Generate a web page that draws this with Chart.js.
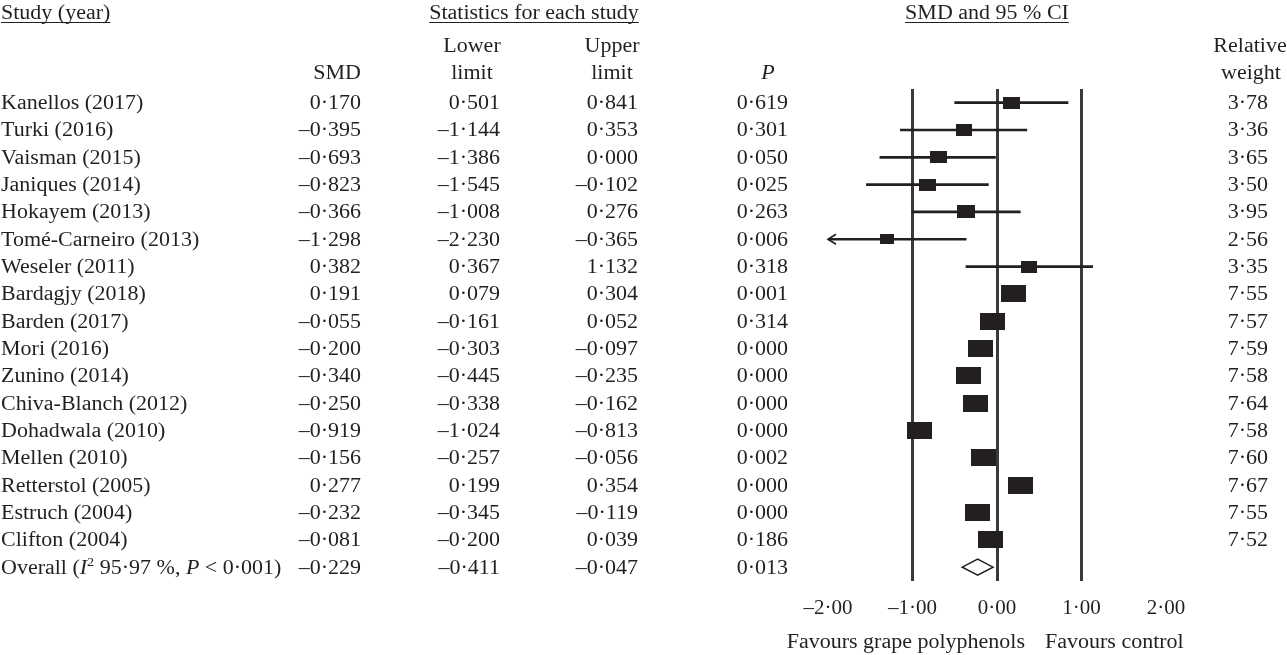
<!DOCTYPE html>
<html>
<head>
<meta charset="utf-8">
<title>SMD forest plot</title>
<script src="https://cdn.jsdelivr.net/npm/chart.js@4.4.1/dist/chart.umd.min.js"></script>
<style>
  html, body { margin: 0; padding: 0; background: #fff; }
  #wrap { position: relative; width: 1287px; height: 655px; }
</style>
</head>
<body>
<div id="wrap"><canvas id="forest"></canvas></div>
<script>
const studies = [
  "Kanellos (2017)", "Turki (2016)", "Vaisman (2015)", "Janiques (2014)",
  "Hokayem (2013)", "Tomé-Carneiro (2013)", "Weseler (2011)", "Bardagjy (2018)",
  "Barden (2017)", "Mori (2016)", "Zunino (2014)", "Chiva-Blanch (2012)",
  "Dohadwala (2010)", "Mellen (2010)", "Retterstol (2005)", "Estruch (2004)",
  "Clifton (2004)", "Overall"
];
const smd = [0.170, -0.395, -0.693, -0.823, -0.366, -1.298, 0.382, 0.191, -0.055,
  -0.200, -0.340, -0.250, -0.919, -0.156, 0.277, -0.232, -0.081, -0.229];
// plotted lower limits (the printed table drops the minus sign for rows 0 and 6)
const lowerLimit = [-0.501, -1.144, -1.386, -1.545, -1.008, -2.230, -0.367, 0.079, -0.161,
  -0.303, -0.445, -0.338, -1.024, -0.257, 0.199, -0.345, -0.200, -0.411];
const upperLimit = [0.841, 0.353, 0.000, -0.102, 0.276, -0.365, 1.132, 0.304, 0.052,
  -0.097, -0.235, -0.162, -0.813, -0.056, 0.354, -0.119, 0.039, -0.047];
const pValues = [0.619, 0.301, 0.050, 0.025, 0.263, 0.006, 0.318, 0.001, 0.314,
  0.000, 0.000, 0.000, 0.000, 0.002, 0.000, 0.000, 0.186, 0.013];
const weights = [3.78, 3.36, 3.65, 3.50, 3.95, 2.56, 3.35, 7.55, 7.57,
  7.59, 7.58, 7.64, 7.58, 7.60, 7.67, 7.55, 7.52, null];
const printedLower = { 0: "0·501", 6: "0·367" };
const xTicks = [-2, -1, 0, 1, 2];
const refLines = [-1, 0, 1];
const OVERALL = studies.length - 1;

const INK = "#231f20";
const SERIF = '"Liberation Serif", "Times New Roman", serif';
const SX = 1.1; // source typeface runs wider than Liberation Serif

function fmt(v, d) {
  const s = Math.abs(v).toFixed(d).replace(".", "·");
  return v < 0 ? "–" + s : s;
}

// square markers sized by study weight
const boxes = weights.map(w => {
  if (w == null) return "rect";
  const c = document.createElement("canvas");
  c.width = Math.round(9 * Math.sqrt(w));
  c.height = Math.round(6.3 * Math.sqrt(w));
  const g = c.getContext("2d");
  g.fillStyle = INK;
  g.fillRect(0, 0, c.width, c.height);
  return c;
});

function put(ctx, str, x, y, align, font) {
  ctx.save();
  ctx.font = font || "20px " + SERIF;
  const w = ctx.measureText(str).width * SX;
  const x0 = align === "right" ? x - w : align === "center" ? x - w / 2 : x;
  ctx.translate(x0, y);
  ctx.scale(SX, 1);
  ctx.textAlign = "left";
  ctx.textBaseline = "alphabetic";
  ctx.fillText(str, 0, 0);
  ctx.restore();
  return { x0, w };
}

function underline(ctx, r, y) {
  ctx.save();
  ctx.strokeStyle = INK;
  ctx.lineWidth = 1;
  ctx.beginPath();
  ctx.moveTo(r.x0, y);
  ctx.lineTo(r.x0 + r.w, y);
  ctx.stroke();
  ctx.restore();
}

const tablePlugin = {
  id: "tablePlugin",
  afterDraw(chart) {
    const ctx = chart.ctx;
    const xs = chart.scales.x;
    const ys = chart.scales.y;
    ctx.save();
    ctx.fillStyle = INK;

    // headers
    underline(ctx, put(ctx, "Study (year)", 1, 18.5, "left"), 22.5);
    underline(ctx, put(ctx, "Statistics for each study", 534, 18.5, "center"), 22.5);
    underline(ctx, put(ctx, "SMD and 95 % CI", 987, 18.5, "center"), 22.5);
    put(ctx, "Lower", 472, 51.5, "center");
    put(ctx, "limit", 472, 78.5, "center");
    put(ctx, "Upper", 612, 51.5, "center");
    put(ctx, "limit", 612, 78.5, "center");
    put(ctx, "SMD", 361, 78.5, "right");
    put(ctx, "P", 768, 78.5, "center", "italic 20px " + SERIF);
    put(ctx, "Relative", 1250, 51.5, "center");
    put(ctx, "weight", 1251, 78.5, "center");

    // table rows
    studies.forEach((name, i) => {
      const b = ys.getPixelForValue(i) + 6.5;
      if (i === OVERALL) {
        let cx = 1;
        const runs = [
          ["Overall (", "20px " + SERIF, 0],
          ["I", "italic 20px " + SERIF, 0],
          ["2", "13px " + SERIF, -8],
          [" 95·97 %, ", "20px " + SERIF, 0],
          ["P", "italic 20px " + SERIF, 0],
          [" < 0·001)", "20px " + SERIF, 0]
        ];
        runs.forEach(([s, f, dy]) => { cx += put(ctx, s, cx, b + dy, "left", f).w; });
      } else {
        put(ctx, name, 1, b, "left");
        put(ctx, fmt(weights[i], 2), 1268, b, "right");
      }
      put(ctx, fmt(smd[i], 3), 361, b, "right");
      put(ctx, printedLower[i] || fmt(lowerLimit[i], 3), 500, b, "right");
      put(ctx, fmt(upperLimit[i], 3), 638, b, "right");
      put(ctx, fmt(pValues[i], 3), 788, b, "right");
    });

    // arrows for intervals running past the axis
    ctx.strokeStyle = INK;
    ctx.lineWidth = 1.6;
    lowerLimit.forEach((lo, i) => {
      if (lo >= xs.min) return;
      const cy = ys.getPixelForValue(i);
      const tip = xs.getPixelForValue(xs.min);
      ctx.beginPath();
      ctx.moveTo(tip + 8, cy - 5);
      ctx.lineTo(tip, cy);
      ctx.lineTo(tip + 8, cy + 5);
      ctx.stroke();
    });

    // pooled estimate diamond
    const cy = ys.getPixelForValue(OVERALL);
    ctx.beginPath();
    ctx.moveTo(xs.getPixelForValue(lowerLimit[OVERALL]), cy);
    ctx.lineTo(xs.getPixelForValue(smd[OVERALL]), cy - 8);
    ctx.lineTo(xs.getPixelForValue(upperLimit[OVERALL]), cy);
    ctx.lineTo(xs.getPixelForValue(smd[OVERALL]), cy + 8);
    ctx.closePath();
    ctx.fillStyle = "#fff";
    ctx.fill();
    ctx.lineWidth = 1.5;
    ctx.stroke();

    ctx.fillStyle = INK;
    put(ctx, "Favours grape polyphenols", 1025, 648, "right");
    put(ctx, "Favours control", 1045, 648, "left");
    ctx.restore();
  }
};

new Chart(document.getElementById("forest"), {
  type: "bar",
  data: {
    labels: studies,
    datasets: [
      {
        type: "line",
        label: "SMD",
        indexAxis: "y",
        data: smd.map((v, i) => (weights[i] == null ? null : v)),
        showLine: false,
        pointStyle: boxes,
        pointRadius: 5,
        order: 0
      },
      {
        type: "bar",
        label: "95% CI",
        data: lowerLimit.map((lo, i) => (weights[i] == null ? null : [lo, upperLimit[i]])),
        backgroundColor: INK,
        barThickness: 2,
        clip: 0,
        order: 1
      }
    ]
  },
  options: {
    indexAxis: "y",
    responsive: true,
    maintainAspectRatio: false,
    animation: false,
    layout: { padding: { left: 828, right: 121, top: 89, bottom: 19 } },
    plugins: { legend: { display: false }, tooltip: { enabled: false } },
    scales: {
      x: {
        type: "linear",
        min: -2,
        max: 2,
        afterBuildTicks: s => { s.ticks = xTicks.map(v => ({ value: v })); },
        ticks: {
          callback: v => fmt(v, 2),
          color: INK,
          font: { family: SERIF, size: 21 },
          padding: 15,
          maxRotation: 0
        },
        grid: {
          color: c => (refLines.includes(c.tick && c.tick.value) ? "#3a3a3a" : "rgba(0,0,0,0)"),
          lineWidth: 3,
          drawTicks: false
        },
        border: { display: false }
      },
      y: {
        type: "category",
        offset: true,
        display: false
      }
    }
  },
  plugins: [tablePlugin]
});
</script>
</body>
</html>
